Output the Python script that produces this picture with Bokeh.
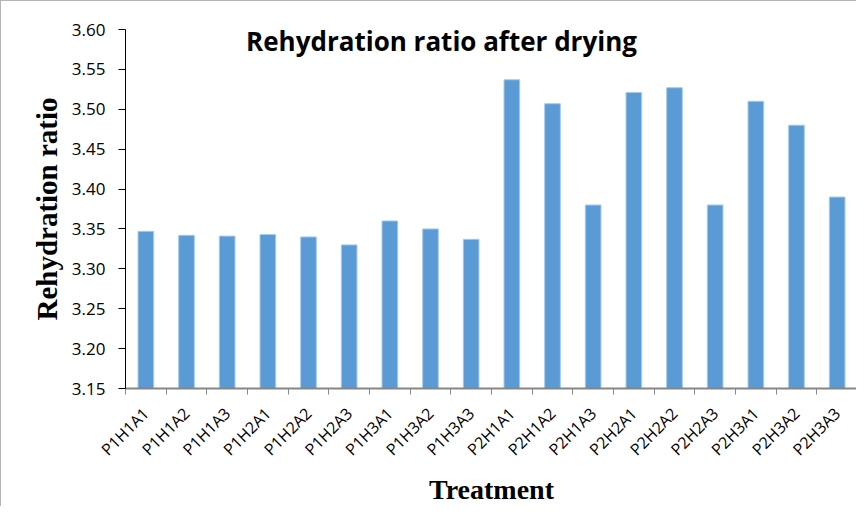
from bokeh.plotting import figure
from bokeh.models import Range1d, FixedTicker, Label, ColumnDataSource, PrintfTickFormatter
from bokeh.embed import file_html
from bokeh.resources import INLINE
import math

treatments = ["P1H1A1", "P1H1A2", "P1H1A3", "P1H2A1", "P1H2A2", "P1H2A3",
              "P1H3A1", "P1H3A2", "P1H3A3", "P2H1A1", "P2H1A2", "P2H1A3",
              "P2H2A1", "P2H2A2", "P2H2A3", "P2H3A1", "P2H3A2", "P2H3A3"]
ratio = [3.347, 3.342, 3.341, 3.343, 3.340, 3.330, 3.360, 3.350, 3.337,
         3.537, 3.507, 3.380, 3.521, 3.527, 3.380, 3.510, 3.480, 3.390]
y_ticks = [3.15, 3.20, 3.25, 3.30, 3.35, 3.40, 3.45, 3.50, 3.55, 3.60]

pos = list(range(1, len(treatments) + 1))
src = ColumnDataSource(dict(x=pos, top=ratio))

p = figure(width=856, height=506, output_backend="svg", toolbar_location=None,
           x_range=Range1d(0.5, len(treatments) + 0.5),
           y_range=Range1d(y_ticks[0], y_ticks[-1]),
           min_border_left=124, min_border_top=28, min_border_right=0,
           min_border_bottom=119,
           styles={"border-left": "1px solid #b4b4b4",
                   "border-top": "1px solid #b4b4b4"})
p.outline_line_color = None
p.xgrid.grid_line_color = None
p.ygrid.grid_line_color = None

p.vbar(x="x", top="top", bottom=y_ticks[0], width=0.385, source=src,
       fill_color="#5b9bd5", line_color="#a7c9ea", line_width=1)

# x axis
xa = p.xaxis[0]
xa.ticker = FixedTicker(ticks=pos, minor_ticks=[i + 0.5 for i in range(len(treatments) + 1)])
xa.major_label_overrides = {i: t for i, t in zip(pos, treatments)}
xa.major_label_orientation = math.pi / 4
xa.major_tick_out = 0
xa.major_tick_in = 0
xa.minor_tick_out = 6
xa.minor_tick_in = 0
xa.minor_tick_line_color = "#868686"
xa.axis_line_color = "#868686"
xa.axis_line_width = 2
xa.major_label_text_font = "Open Sans"
xa.major_label_text_font_size = "16px"
xa.major_label_text_color = "#000000"
xa.major_label_standoff = 16
xa.axis_label = "Treatment"
xa.axis_label_text_font = "Liberation Serif"
xa.axis_label_text_font_style = "bold"
xa.axis_label_text_font_size = "28px"
xa.axis_label_text_color = "#000000"
xa.axis_label_standoff = 3

# y axis
ya = p.yaxis[0]
ya.ticker = FixedTicker(ticks=y_ticks)
ya.formatter = PrintfTickFormatter(format="%.2f")
ya.major_tick_out = 7
ya.major_tick_in = 0
ya.minor_tick_line_color = None
ya.axis_line_color = "#000000"
ya.major_tick_line_color = "#000000"
ya.major_label_text_font = "Open Sans"
ya.major_label_text_font_size = "17px"
ya.major_label_text_color = "#000000"
ya.major_label_standoff = 13
ya.axis_label = "Rehydration ratio"
ya.axis_label_text_font = "Liberation Serif"
ya.axis_label_text_font_style = "bold"
ya.axis_label_text_font_size = "29px"
ya.axis_label_text_color = "#000000"
ya.axis_label_standoff = 6

title = Label(x=8.27, y=3.585, text="Rehydration ratio after drying",
              text_font="Open Sans", text_font_style="bold",
              text_font_size="26px", text_align="center",
              text_baseline="middle", text_color="#000000")
p.add_layout(title)

open("out.html", "w").write(file_html(p, INLINE))
